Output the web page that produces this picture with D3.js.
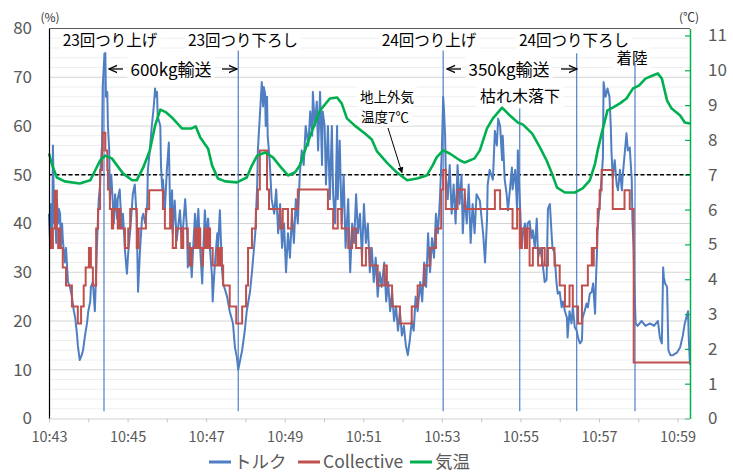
<!DOCTYPE html>
<html><head><meta charset="utf-8">
<script src="https://cdn.jsdelivr.net/npm/d3@7"></script>
<style>body{margin:0;background:#fff}svg{display:block}text{font-family:"Noto Sans CJK JP","Noto Sans",sans-serif}</style>
</head><body>
<svg id="c" width="733" height="472"></svg>
<script>
// ---- data ----
const startTime = "10:43:00";
const endTime = "10:59:19";
const pctTicks = [0,10,20,30,40,50,60,70,80];
const tempTicks = [0,1,2,3,4,5,6,7,8,9,10,11];
const seriesNames = ["トルク","Collective","気温"];
const refTemp = 7; // 地上外気温度7℃
// torque [seconds from 10:43:00, %]
const torque = [[0,42],[2,35],[3,44],[5,38],[6,56],[8,40],[9,44],[11,36],[12,45],[14,40],[15,43],[17,42],[18,35],[20,40],[21,37],[24,32],[26,35],[29,28],[32,27],[35,25],[38,22],[40,20.7],[43,17],[44,15],[47,12],[50,13],[52,14],[55,17],[58,19.5],[60,22],[63,24],[64,27],[67,28],[70,22],[72,30],[73,34.5],[75,42],[76,45],[78,48],[79,52],[81,56],[82,68],[84,73],[86,75],[87,66],[89,67],[90,60],[92,55],[93,45],[95,50],[96,48],[99,40],[101,46],[104,41],[105,45],[108,47],[111,39],[113,42],[116,34.5],[119,29.7],[121,34],[124,38.6],[127,44],[128,46],[131,48],[134,41],[136,26],[139,34.5],[142,41],[144,42],[147,40],[150,44],[151,51],[154,55],[157,60],[160,64],[162,67.7],[163,66],[165,67],[166,62],[170,60],[171,52],[173,47],[174,49],[177,43],[180,51],[183,56.6],[185,42.7],[188,46.8],[189,38],[192,44.7],[195,36.5],[200,42.7],[203,36],[208,45],[211,38],[212,31],[215,36],[218,29],[220,34.5],[223,42],[226,37],[228,43],[231,34.5],[234,27.7],[235,32],[238,42.7],[241,37],[243,41],[246,34.5],[249,29],[250,24],[253,31],[257,38],[258,34.5],[261,42.7],[264,31],[266,27.7],[272,25],[276,22],[281,19.5],[284,14.6],[287,12.5],[289,10],[292,12],[295,14],[299,18],[302,22],[307,26],[310,30],[315,38],[318,48],[319,55],[322,62],[325,69],[327,64],[328,68],[330,66.7],[331,60],[333,66],[334,58],[337,53],[340,45],[344,42],[347,47],[350,38],[353,44],[356,35],[359,40],[362,30],[365,38],[368,33],[371,42],[374,36],[377,45],[380,40],[383,50],[386,55],[389,52],[392,60],[396,56],[399,63],[402,58],[403,67],[406,60],[409,65],[411,55],[414,67],[417,52],[418,63],[421,60],[423,48],[426,60],[429,45],[432,60],[434,46],[437,40],[440,60],[441,45],[444,57],[447,40],[450,50],[453,35],[457,45],[460,30],[463,40],[466,36],[469,46],[472,38],[475,42],[478,33],[481,44],[484,36],[487,40],[490,30],[493,35],[496,28],[499,33],[502,25],[505,30],[508,27],[512,32],[515,24],[518,28],[521,22],[524,26],[527,20],[530,23],[533,18],[536,22],[539,17],[542,19],[545,15],[548,13],[551,16],[554,20],[557,18],[560,25],[563,22],[567,28],[570,24],[573,32],[576,27],[579,38],[582,30],[585,37],[588,33],[591,42],[594,38],[597,45],[600,55],[602,66],[603,64],[605,58],[606,50],[609,45],[612,52],[615,42],[618,48],[621,40],[624,52],[627,44],[630,50],[632,38],[635,46],[638,40],[641,48],[644,36],[647,44],[650,38],[653,46],[658,44.7],[663,38],[666,32],[669,41],[670,48],[673,51],[678,49],[681,59],[684,56],[686,61.5],[689,60],[692,53],[693,58],[696,49],[699,46],[701,42.7],[704,47],[707,51.5],[708,47],[712,51],[715,42.7],[716,55],[719,45],[722,35],[724,38],[727,40],[730,35],[731,40],[734,40.5],[737,37],[739,38.6],[742,35],[745,41],[747,33],[750,35],[754,31.8],[757,28],[760,28.5],[762,43],[765,44],[768,37],[769,35],[772,34],[775,28],[777,25.6],[780,26],[783,22.8],[785,24],[788,22],[791,20.7],[792,16.6],[795,22],[798,19.5],[800,22.8],[803,18.7],[806,18],[808,16.6],[811,15.4],[814,16],[815,20.7],[818,22],[821,23.6],[823,22.8],[826,25.6],[829,26],[831,27.7],[834,21.5],[835,27],[837,34.5],[838,39],[841,44],[844,49.4],[846,53.5],[847,69],[850,66],[853,67.7],[856,66],[858,60],[859,55],[861,49.4],[864,53],[867,48],[869,46.8],[872,51],[875,46.8],[876,49.4],[879,54],[882,58.5],[884,55],[887,55.6],[890,49],[891,41],[893,34.5],[894,27.7],[896,19.5],[899,19],[905,20],[911,19],[918,19.5],[924,19],[930,20],[933,16.6],[936,15.4],[938,31],[939,29],[941,27.7],[944,27],[946,14],[949,13],[953,13],[959,13.5],[964,14.6],[968,17],[971,19.5],[974,21],[976,22],[977,17],[979,11]];
// collective [seconds, %] (stepwise)
const collective = [[0,39],[2,35],[3,39],[5,35],[6,39],[9,46.7],[12,39],[14,35],[15,39],[17,35],[21,31],[26,27.3],[35,23],[44,19.5],[49,23],[53,27.3],[56,31],[61,35],[64,31],[67,27.3],[72,39],[75,43],[78,51],[81,55],[82,58.6],[86,55],[89,51],[90,47],[93,43],[96,39],[98,43],[105,39],[108,43],[109,39],[116,35],[121,39],[124,43],[134,35],[137,39],[148,43],[153,46.8],[174,43],[177,39],[185,43],[188,39],[189,35],[194,39],[202,35],[205,39],[212,35],[215,31.4],[218,35],[223,39],[226,35],[228,39],[231,35],[234,31.4],[235,35],[238,39],[241,35],[243,39],[246,35],[250,31.4],[257,35],[258,31.4],[261,35],[264,31.4],[266,27.3],[276,23],[286,19.5],[295,23],[301,27.3],[304,35],[310,39],[316,43],[319,47],[322,55],[333,47],[336,43],[353,39],[357,43],[365,39],[371,43],[380,47],[426,43],[434,39],[441,43],[447,39],[457,35],[463,39],[469,35],[478,31.4],[484,35],[490,31.4],[502,27.3],[512,31.4],[516,27.3],[524,23],[536,19.5],[554,23],[563,27.3],[573,31.4],[582,35],[591,39],[599,47],[602,51],[606,43],[624,47],[635,43],[681,46.8],[689,43],[708,39],[715,43],[719,35],[722,39],[727,35],[730,39],[734,31.4],[739,35],[747,31.4],[753,35],[757,31.4],[762,35],[772,31.4],[780,27.3],[788,23],[795,27.3],[800,23],[808,19.5],[814,27.3],[823,31.4],[829,35],[831,31.4],[832,35],[837,39],[838,43],[841,46.8],[844,51],[861,43],[879,46.8],[887,43],[893,11.5],[979,11.5]];
// temperature [seconds, ℃]
const temperature = [[0,7.61],[5,7.27],[12,6.92],[24,6.81],[47,6.75],[63,6.84],[72,7.18],[78,7.41],[86,7.55],[96,7.47],[105,7.24],[113,7.04],[127,6.84],[134,6.84],[144,7.21],[154,7.70],[162,8.41],[170,8.87],[179,8.79],[189,8.62],[203,8.33],[218,8.33],[224,8.39],[231,8.07],[243,7.75],[249,7.27],[258,6.89],[269,6.81],[287,6.78],[302,6.92],[310,7.27],[318,7.55],[330,7.64],[342,7.50],[353,7.24],[365,6.98],[376,7.07],[383,7.27],[391,7.70],[402,8.27],[414,8.85],[429,9.19],[440,9.22],[447,9.05],[455,8.62],[467,8.41],[483,8.18],[493,8.01],[501,7.67],[516,7.35],[531,7.07],[547,6.84],[562,6.89],[577,6.98],[586,7.27],[592,7.50],[602,7.70],[612,7.61],[628,7.41],[635,7.35],[650,7.47],[658,7.70],[669,8.33],[678,8.62],[692,8.93],[704,8.70],[716,8.50],[724,8.44],[738,8.18],[750,7.78],[760,7.41],[768,7.04],[776,6.63],[788,6.49],[803,6.49],[815,6.61],[826,6.84],[834,7.32],[838,7.70],[844,8.18],[853,8.85],[861,8.93],[872,9.05],[882,9.19],[892,9.48],[901,9.56],[911,9.76],[922,9.85],[930,9.91],[936,9.76],[944,9.13],[951,8.90],[964,8.70],[971,8.50],[979,8.47]];
// event markers [seconds, top %]
const events = [[84,75],[289,75.5],[602,75.5],[719,63.6],[806,74.9],[895,73]];

// ---- chart ----
const svg = d3.select("#c");
const parse = d3.timeParse("%H:%M:%S");
const t0 = parse(startTime), t1 = parse(endTime);
const toDate = s => new Date(t0.getTime() + s * 1000);
const L = 49, R = 690, B = 418.5, T = 28.5;
const x = d3.scaleTime().domain([t0, t1]).range([L, R]);
const y = d3.scaleLinear().domain([0, 80]).range([B, T]);
const yR = d3.scaleLinear().domain([0, 80 * refTemp / 50]).range([B, T]);
const C = {blue:"#4f7fc2", red:"#c0504d", green:"#00b050", txt:"#595959"};

// grid
const grid = svg.append("g");
grid.selectAll("line").data(d3.range(2, 80, 2)).join("line")
  .attr("x1", L).attr("x2", R).attr("y1", d => y(d)).attr("y2", d => y(d))
  .attr("stroke", d => d % 10 === 0 ? "#d4d4d4" : "#eeeeee").attr("stroke-width", 1);

const annBg = svg.append("g");

// reference dashed line
svg.append("line").attr("x1", L).attr("x2", R).attr("y1", yR(refTemp)).attr("y2", yR(refTemp))
  .attr("stroke", "#000").attr("stroke-width", 1.4).attr("stroke-dasharray", "4,2.5");

// event lines
svg.append("g").selectAll("line").data(events).join("line")
  .attr("x1", d => x(toDate(d[0]))).attr("x2", d => x(toDate(d[0])))
  .attr("y1", y(1.5)).attr("y2", d => y(d[1]))
  .attr("stroke", "#4472c4").attr("stroke-width", 1.1);

const lineL = d3.line().x(d => x(toDate(d[0]))).y(d => y(d[1]));
const lineStep = d3.line().curve(d3.curveStepAfter).x(d => x(toDate(d[0]))).y(d => y(d[1]));
const lineR = d3.line().x(d => x(toDate(d[0]))).y(d => yR(d[1]));

svg.append("path").datum(torque).attr("d", lineL).attr("fill", "none")
  .attr("stroke", C.blue).attr("stroke-width", 2).attr("stroke-linejoin", "round");
svg.append("path").datum(collective).attr("d", lineStep).attr("fill", "none")
  .attr("stroke", C.red).attr("stroke-width", 2);
svg.append("path").datum(temperature).attr("d", lineR).attr("fill", "none")
  .attr("stroke", C.green).attr("stroke-width", 2.6).attr("stroke-linejoin", "round");

// axes
const ax = svg.append("g").attr("transform", `translate(${L},0)`)
  .call(d3.axisLeft(y).tickValues(pctTicks).tickSize(0).tickPadding(17));
ax.select(".domain").attr("stroke", "#000").attr("stroke-width", 1.2);
ax.selectAll("text").attr("font-size", 17).attr("fill", C.txt);

const axR = svg.append("g").attr("transform", `translate(${R},0)`)
  .call(d3.axisRight(yR).tickValues(tempTicks).tickSizeInner(-5).tickSizeOuter(0).tickPadding(18));
axR.select(".domain").attr("stroke", C.green).attr("stroke-width", 1.5);
axR.selectAll(".tick line").attr("stroke", C.green).attr("stroke-width", 1.2);
axR.selectAll("text").attr("font-size", 17).attr("fill", C.txt);

const fmt = d3.timeFormat("%H:%M");
const axB = svg.append("g").attr("transform", `translate(0,${B})`)
  .call(d3.axisBottom(x).ticks(d3.timeMinute.every(1)).tickSizeInner(4).tickSizeOuter(0).tickPadding(9)
    .tickFormat(d => d.getMinutes() % 2 === 1 ? fmt(d) : ""));
axB.select(".domain").attr("stroke", "#d0d0d0");
axB.selectAll(".tick line").attr("stroke", "#c8c8c8");
axB.selectAll("text").attr("font-size", 14.5).attr("fill", C.txt);

// top frame line
svg.append("line").attr("x1", L).attr("x2", R).attr("y1", T).attr("y2", T).attr("stroke", "#595959").attr("stroke-width", 1);

// unit labels
svg.append("text").attr("x", 50).attr("y", 22).attr("text-anchor", "middle").attr("font-size", 12).attr("fill", "#333").text("(%)");
svg.append("text").attr("x", 689).attr("y", 22).attr("text-anchor", "middle").attr("font-size", 12).attr("fill", "#333").text("(℃)");

// annotations
const anns = [
  {t:"23回つり上げ", x:110, y:46, s:15.5},
  {t:"23回つり下ろし", x:243, y:46, s:15.5},
  {t:"24回つり上げ", x:429, y:46, s:15.5},
  {t:"24回つり下ろし", x:574, y:46, s:15.5},
  {t:"600kg輸送", x:171, y:76, s:17},
  {t:"350kg輸送", x:509, y:76, s:17},
  {t:"着陸", x:632, y:64, s:15.5},
  {t:"枯れ木落下", x:520, y:102, s:16},
  {t:"地上外気", x:387, y:101.5, s:13.5},
  {t:"温度7℃", x:385, y:121.5, s:13.5}
];
const annG = svg.append("g");
anns.forEach(a => {
  const tx = annG.append("text").attr("x", a.x).attr("y", a.y).attr("text-anchor", "middle")
    .attr("font-size", a.s).attr("fill", "#000").text(a.t);
  const bb = tx.node().getBBox();
  annBg.append("rect").attr("x", bb.x - 3).attr("y", bb.y).attr("width", bb.width + 6).attr("height", bb.height).attr("fill", "#fff");
});
// arrows for transport spans
const defs = svg.append("defs");
defs.append("marker").attr("id", "ah").attr("viewBox", "0 0 10 10").attr("refX", 9).attr("refY", 5)
  .attr("markerWidth", 7).attr("markerHeight", 7).attr("orient", "auto-start-reverse")
  .append("path").attr("d", "M0,1 L9,5 L0,9").attr("fill", "none").attr("stroke", "#000").attr("stroke-width", 1.4);
const arrows = [[109,123],[237,222],[447,461],[577,561]];
arrows.forEach(a => {
  svg.append("line").attr("x1", a[1]).attr("x2", a[0]).attr("y1", 69).attr("y2", 69)
    .attr("stroke", "#000").attr("stroke-width", 1.3).attr("marker-end", "url(#ah)");
});
defs.append("marker").attr("id", "ah2").attr("viewBox", "0 0 10 10").attr("refX", 9).attr("refY", 5)
  .attr("markerWidth", 6).attr("markerHeight", 6).attr("orient", "auto")
  .append("path").attr("d", "M0,0 L10,5 L0,10 z").attr("fill", "#000");
svg.append("line").attr("x1", 388).attr("y1", 128).attr("x2", 402).attr("y2", yR(refTemp) - 2)
  .attr("stroke", "#000").attr("stroke-width", 1).attr("marker-end", "url(#ah2)");

// legend
const leg = svg.append("g");
const legItems = [{n:seriesNames[0], c:C.blue, x:209}, {n:seriesNames[1], c:C.red, x:298}, {n:seriesNames[2], c:C.green, x:410}];
legItems.forEach(it => {
  leg.append("line").attr("x1", it.x).attr("x2", it.x + 22).attr("y1", 462).attr("y2", 462).attr("stroke", it.c).attr("stroke-width", 3);
  leg.append("text").attr("x", it.x + 25).attr("y", 468).attr("font-size", 17.5).attr("fill", C.txt).text(it.n);
});
</script>
</body></html>
